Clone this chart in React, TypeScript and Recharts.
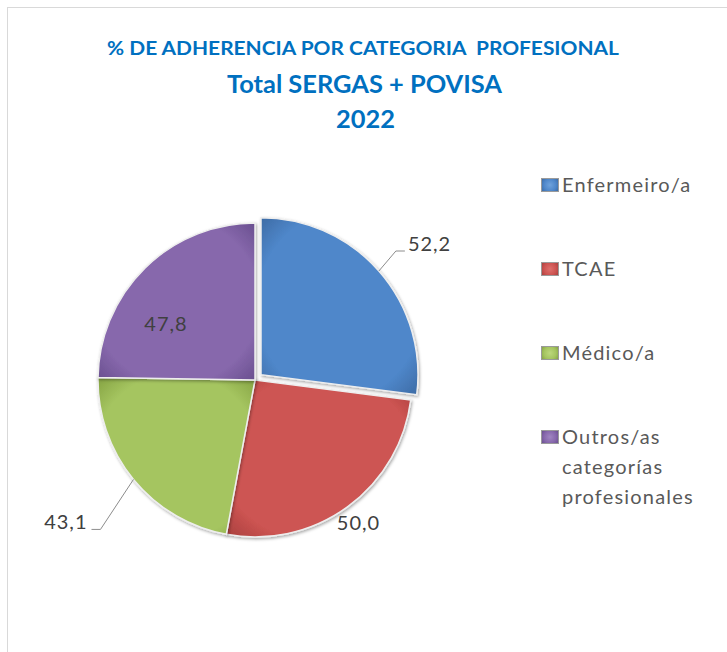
import React from 'react';
import { PieChart, Pie, Cell, Legend } from 'recharts';

// ---- data ----
const categories = ['Enfermeiro/a', 'TCAE', 'Médico/a', 'Outros/as categorías profesionales'];
const values = [52.2, 50.0, 43.1, 47.8];
const valueLabels = ['52,2', '50,0', '43,1', '47,8'];
const titleLines = ['% DE ADHERENCIA POR CATEGORIA  PROFESIONAL', 'Total SERGAS + POVISA', '2022'];

// ---- styles ----
const baseColors = ['#4F87CA', '#CD5452', '#A5C560', '#8768AC'];
const lightColors = ['#6FA2DC', '#DE706D', '#BDD87C', '#A086C2'];
const darkColors = ['#3D6CA6', '#A9403E', '#86A444', '#6A5090'];
const gradIds = ['gBlue', 'gRed', 'gGreen', 'gPurple'];
const FONT = 'Lato, "Open Sans", sans-serif';
const CX = 255;
const CY = 380;
const R = 157;
const EXPLODE = 8;

const data = categories.map((name, i) => ({ name, value: values[i] }));

const RAD = Math.PI / 180;

// label placement rules (relative to library-provided geometry)
const LABEL_LAYOUT: any[] = [
  { kind: 'leader', elbow: [17, -20], tail: 9 },
  { kind: 'polar', rf: 1.12, da: 0 },
  { kind: 'leader', elbow: [-33, 50], tail: -9 },
  { kind: 'polar', rf: 0.673, da: 12.8 },
];

function renderLabel(showIdx: number[]) {
  return (props: any) => {
    const { cx, cy, midAngle, outerRadius, index } = props;
    if (!showIdx.includes(index)) return <g key={`l${index}`} />;
    const lay = LABEL_LAYOUT[index];
    const txt = valueLabels[index];
    const style = { fontFamily: FONT, fontSize: 20, fill: '#404040', letterSpacing: 1 };
    if (lay.kind === 'polar') {
      const a = (midAngle + lay.da) * RAD;
      const r = outerRadius * lay.rf;
      const x = cx + r * Math.cos(a);
      const y = cy - r * Math.sin(a);
      return (
        <text key={`l${index}`} x={x} y={y} textAnchor="middle" dominantBaseline="central" style={style}>
          {txt}
        </text>
      );
    }
    const a = midAngle * RAD;
    const ex = cx + outerRadius * Math.cos(a);
    const ey = cy - outerRadius * Math.sin(a);
    const bx = ex + lay.elbow[0];
    const by = ey + lay.elbow[1];
    const tx = bx + lay.tail;
    const right = lay.tail > 0;
    return (
      <g key={`l${index}`}>
        <polyline points={`${ex},${ey} ${bx},${by} ${tx},${by}`} fill="none" stroke="#8c8c8c" strokeWidth={1} />
        <text
          x={right ? tx + 3 : tx - 4}
          y={by - 8}
          textAnchor={right ? 'start' : 'end'}
          dominantBaseline="central"
          style={style}
        >
          {txt}
        </text>
      </g>
    );
  };
}

function LegendContent() {
  return (
    <div style={{ fontFamily: FONT, fontSize: 20, letterSpacing: 1.2, color: '#595959' }}>
      {categories.map((c, i) => (
        <div key={c} style={{ display: 'flex', alignItems: 'flex-start', marginBottom: 54 }}>
          <div
            style={{
              width: 16,
              height: 12,
              marginTop: 9,
              marginRight: 3,
              border: '1px solid #9a9a9a',
              background: `radial-gradient(circle, ${lightColors[i]} 0%, ${baseColors[i]} 60%, ${darkColors[i]} 100%)`,
              flex: 'none',
            }}
          />
          <div style={{ lineHeight: '30px' }}>
            {c.split(' ').map((w, k) => (
              <div key={k}>{w}</div>
            ))}
          </div>
        </div>
      ))}
    </div>
  );
}

export default function App() {
  return (
    <div style={{ position: 'relative', width: 727, height: 652, overflow: 'hidden', background: '#fff' }}>
      <style>{`body{margin:0;overflow:hidden;}`}</style>
      <div
        style={{
          position: 'absolute',
          left: 7,
          top: 7,
          width: 740,
          height: 680,
          border: '1px solid #d9d9d9',
          boxSizing: 'border-box',
        }}
      />
      <svg width={0} height={0} style={{ position: 'absolute' }}>
        <defs>
          {gradIds.map((id, i) => (
            <radialGradient key={id} id={id} cx="50%" cy="50%" r="70%">
              <stop offset="0%" stopColor={baseColors[i]} />
              <stop offset="75%" stopColor={baseColors[i]} />
              <stop offset="100%" stopColor={darkColors[i]} />
            </radialGradient>
          ))}
          <filter id="shadow" x="-20%" y="-20%" width="140%" height="140%">
            <feDropShadow dx="1" dy="1.5" stdDeviation="1.5" floodColor="#000" floodOpacity="0.35" />
          </filter>
        </defs>
      </svg>
      <div style={{ position: 'absolute', left: 0, top: 0 }}>
        <PieChart width={727} height={652} margin={{ top: 0, right: 0, bottom: 0, left: 0 }}>
          <Pie
            data={data}
            dataKey="value"
            nameKey="name"
            cx={CX}
            cy={CY}
            outerRadius={R}
            startAngle={90}
            endAngle={-270}
            isAnimationActive={false}
            labelLine={false}
            label={renderLabel([1, 2, 3])}
          >
            {data.map((d, i) => (
              <Cell
                key={d.name}
                fill={i === 0 ? 'none' : `url(#${gradIds[i]})`}
                stroke={i === 0 ? 'none' : '#eeeeee'}
                strokeWidth={1.5}
                filter={i === 0 ? undefined : 'url(#shadow)'}
              />
            ))}
          </Pie>
          <Pie
            data={data}
            dataKey="value"
            nameKey="name"
            cx={CX + EXPLODE * Math.cos(41.35 * RAD)}
            cy={CY - EXPLODE * Math.sin(41.35 * RAD)}
            outerRadius={R}
            startAngle={90}
            endAngle={-270}
            isAnimationActive={false}
            labelLine={false}
            label={renderLabel([0])}
          >
            {data.map((d, i) => (
              <Cell
                key={d.name}
                fill={i === 0 ? `url(#${gradIds[i]})` : 'none'}
                stroke={i === 0 ? '#eeeeee' : 'none'}
                strokeWidth={1.5}
                filter={i === 0 ? 'url(#shadow)' : undefined}
              />
            ))}
          </Pie>
          <Legend
            layout="vertical"
            align="right"
            verticalAlign="top"
            content={() => <LegendContent />}
            wrapperStyle={{ position: 'absolute', left: 541, top: 169, width: 185 }}
          />
        </PieChart>
      </div>
      <svg width={727} height={140} style={{ position: 'absolute', left: 0, top: 0, pointerEvents: 'none' }}>
        <text x={363} y={47} textAnchor="middle" dominantBaseline="central" textLength={512} lengthAdjust="spacingAndGlyphs"
          xmlSpace="preserve"
          style={{ fontFamily: FONT, fontWeight: 700, fontSize: 19, fill: '#0070C0', whiteSpace: 'pre' }}>
          {titleLines[0]}
        </text>
        <text x={364.5} y={83} textAnchor="middle" dominantBaseline="central" textLength={275} lengthAdjust="spacingAndGlyphs"
          style={{ fontFamily: FONT, fontWeight: 700, fontSize: 25, fill: '#0070C0' }}>
          {titleLines[1]}
        </text>
        <text x={365.5} y={118} textAnchor="middle" dominantBaseline="central" textLength={59} lengthAdjust="spacingAndGlyphs"
          style={{ fontFamily: FONT, fontWeight: 700, fontSize: 25, fill: '#0070C0' }}>
          {titleLines[2]}
        </text>
      </svg>
    </div>
  );
}
